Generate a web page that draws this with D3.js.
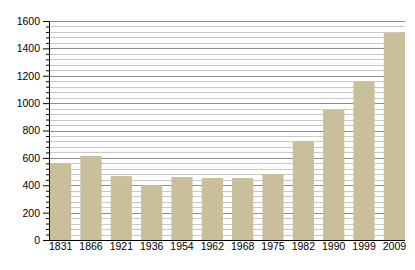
<!DOCTYPE html>
<html>
<head>
<meta charset="utf-8">
<script src="https://cdn.jsdelivr.net/npm/d3@7"></script>
<style>
  body { margin: 0; background: #fff; }
  text { font-family: "Liberation Sans", Arial, sans-serif; font-size: 10.5px; fill: #000; }
</style>
</head>
<body>
<div id="chart"></div>
<script>
// population by census year
let years = ["1831", "1866", "1921", "1936", "1954", "1962", "1968", "1975", "1982", "1990", "1999", "2009"];
let population = [560, 614, 467, 402, 460, 453, 453, 482, 721, 950, 1159, 1514];
let majorTicks = [0, 200, 400, 600, 800, 1000, 1200, 1400, 1600];
let minorStep = 40;

let width = 415,
  height = 270,
  margin = {top: 21, right: 10, bottom: 30, left: 49};

let svg = d3.select("#chart")
  .append("svg")
  .attr("width", width)
  .attr("height", height);

let x = d3.scaleBand()
  .domain(years)
  .range([margin.left + 1, width - margin.right])
  .paddingInner(0.3)
  .paddingOuter(0);

let y = d3.scaleLinear()
  .domain([0, 1600])
  .range([height - margin.bottom, margin.top]);

let minorTicks = d3.range(0, 1600 + 1, minorStep).filter(v => v % 200 != 0);

// minor grid lines
svg.append("g")
  .selectAll("line")
  .data(minorTicks)
  .enter().append("line")
  .attr("x1", margin.left)
  .attr("x2", width - margin.right)
  .attr("y1", d => Math.round(y(d)) + 0.5)
  .attr("y2", d => Math.round(y(d)) + 0.5)
  .attr("stroke", "#c8c8c8");

// major grid lines
svg.append("g")
  .selectAll("line")
  .data(majorTicks.slice(1))
  .enter().append("line")
  .attr("x1", margin.left)
  .attr("x2", width - margin.right)
  .attr("y1", d => Math.round(y(d)) + 0.5)
  .attr("y2", d => Math.round(y(d)) + 0.5)
  .attr("stroke", "#8c8c8c");

// bars
svg.append("g")
  .selectAll("rect")
  .data(population)
  .enter().append("rect")
  .attr("x", (d, i) => x(years[i]))
  .attr("y", d => y(d))
  .attr("width", x.bandwidth())
  .attr("height", d => y(0) - y(d))
  .attr("fill", "#c9c09b");

// y axis with minor ticks
svg.append("g")
  .attr("transform", `translate(${margin.left},0)`)
  .call(d3.axisLeft(y).tickValues(minorTicks).tickSize(3).tickFormat("").tickSizeOuter(0))
  .call(g => g.select(".domain").remove());

svg.append("g")
  .attr("class", "y axis")
  .attr("transform", `translate(${margin.left},0)`)
  .call(d3.axisLeft(y).tickValues(majorTicks).tickFormat(d3.format("d")).tickSize(6).tickPadding(3).tickSizeOuter(0));

// x axis
svg.append("g")
  .attr("class", "x axis")
  .attr("transform", `translate(0,${height - margin.bottom})`)
  .call(d3.axisBottom(x).tickSize(0).tickPadding(3).tickSizeOuter(0))
  .call(g => g.select(".domain").attr("d", `M${margin.left},0.5H${width - margin.right}`));
</script>
</body>
</html>
